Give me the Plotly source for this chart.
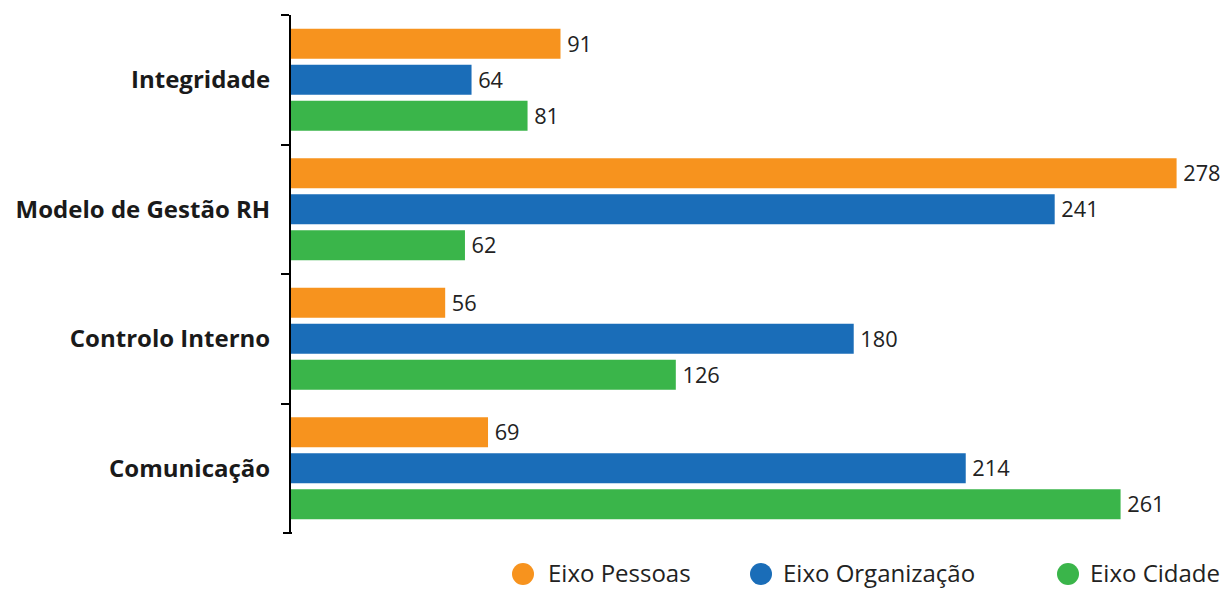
import plotly.graph_objects as go

categories = ["Integridade", "Modelo de Gestão RH", "Controlo Interno", "Comunicação"]
pessoas = [91, 278, 56, 69]
organizacao = [64, 241, 180, 214]
cidade = [81, 62, 126, 261]
series_names = ["Eixo Pessoas", "Eixo Organização", "Eixo Cidade"]
colors = ["#F7931E", "#1A6DB8", "#3AB54A"]

fig = go.Figure()
for name, vals, col in zip(series_names, [pessoas, organizacao, cidade], colors):
    fig.add_trace(go.Bar(
        y=categories, x=vals, orientation="h", name=name,
        marker=dict(color=col, line=dict(width=0)),
        text=["\u2009" + str(v) for v in vals], textposition="outside",
        textfont=dict(family="Open Sans", size=22.5, color="#222"),
        cliponaxis=False, showlegend=False,
    ))

# legend drawn manually (circle + label), positioned in paper coords
W, H = 1227, 589
L, R, T, B = 291, 0, 15, 56
pw, ph = W - L - R, H - T - B
def px(x):
    return (x - L) / pw
def py(y):
    return (H - B - y) / ph

legend_circles = [523, 761, 1068]
legend_texts = [546, 781, 1088]
shapes = []
annotations = []
for name, col, cx, tx in zip(series_names, colors, legend_circles, legend_texts):
    shapes.append(dict(type="circle", xref="paper", yref="paper",
                       xsizemode="pixel", ysizemode="pixel",
                       xanchor=px(cx), yanchor=py(574),
                       x0=-11, x1=11, y0=-11, y1=11,
                       fillcolor=col, line=dict(width=0)))
    annotations.append(dict(text=name, xref="paper", yref="paper",
                            x=px(tx), y=py(572), xanchor="left", yanchor="middle",
                            showarrow=False,
                            font=dict(family="Open Sans", size=24, color="#222")))
# closing tick at bottom boundary of the category axis
shapes.append(dict(type="line", xref="paper", yref="paper",
                   x0=px(283), x1=px(292), y0=0, y1=0,
                   line=dict(color="black", width=2)))

fig.update_layout(
    width=W, height=H,
    margin=dict(l=L, r=R, t=T, b=B, autoexpand=False),
    paper_bgcolor="white", plot_bgcolor="white",
    barmode="group", bargap=0.166, bargroupgap=0.167,
    font=dict(family="Open Sans", color="#222"),
    showlegend=False,
    shapes=shapes, annotations=annotations,
)
fig.update_xaxes(range=[9.2, 293.3], visible=False, showgrid=False, zeroline=False)
fig.update_yaxes(
    autorange="reversed", showline=True, linecolor="black", linewidth=2,
    ticks="outside", tickson="boundaries", ticklen=8, tickcolor="black", tickwidth=2,
    tickfont=dict(family="Open Sans", size=24, color="#1a1a1a", weight="bold"),
    showgrid=False, ticklabelstandoff=14,
)

fig.write_html("out.html", config={"displayModeBar": False},
               post_script="document.body.style.margin='0';document.body.style.overflow='hidden';")
